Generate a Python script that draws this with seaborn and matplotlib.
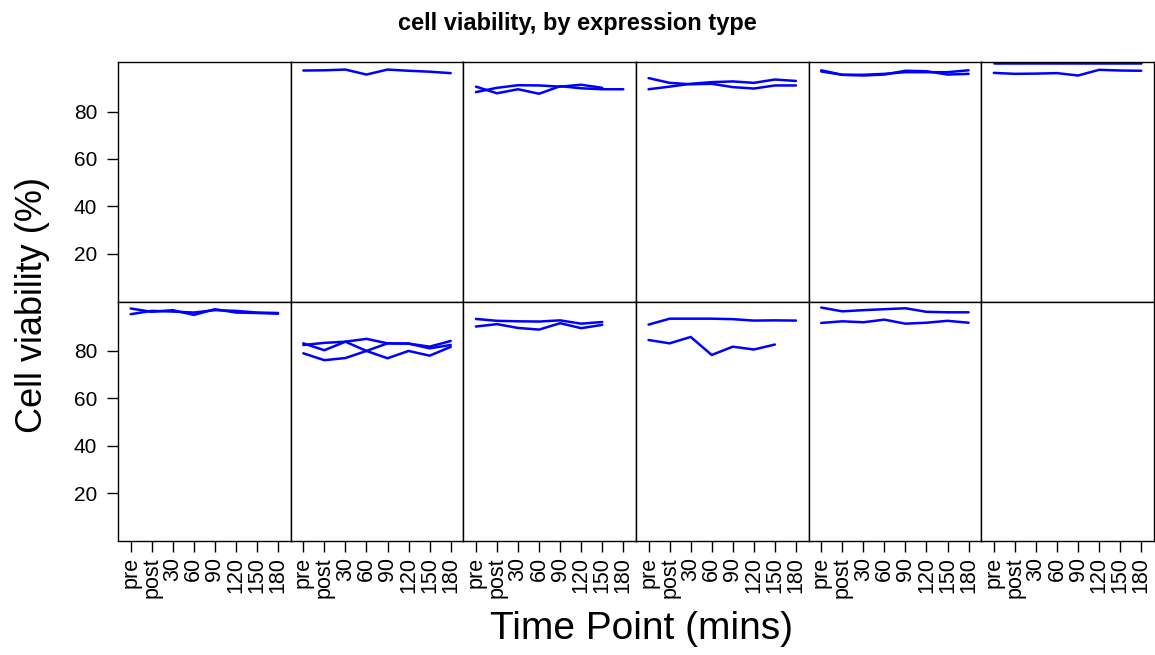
import numpy as np
import pandas as pd
import matplotlib.pyplot as plt
import seaborn as sns

sns.set_theme(style="ticks")
plt.rcParams['font.family'] = ['Liberation Sans', 'DejaVu Sans']
plt.rcParams.update({"text.color": "black", "xtick.color": "black", "ytick.color": "black",
                     "axes.labelcolor": "black"})

time_points = ["pre", "post", "30", "60", "90", "120", "150", "180"]

# top row (column 1 empty)
top2_a = [97.3, 97.4, 97.7, 95.6, 97.7, 97.2, 96.8, 96.2]
top3_a = [90.5, 87.7, 89.4, 87.5, 90.7, 89.8, 89.4, 89.4]
top3_b = [88.2, 90.0, 91.1, 91.0, 90.5, 91.3, 90.0, np.nan]
top4_a = [94.1, 92.1, 91.5, 91.7, 90.3, 89.7, 91.0, 91.0]
top4_b = [89.4, 90.5, 91.7, 92.4, 92.7, 92.1, 93.5, 92.9]
top5_a = [97.4, 95.5, 95.2, 95.6, 97.2, 97.0, 95.6, 95.9]
top5_b = [96.9, 95.5, 95.5, 95.9, 96.6, 96.6, 96.6, 97.4]
top6_a = [96.3, 95.9, 96.0, 96.2, 95.2, 97.6, 97.3, 97.2]
top6_b = [100.5, 100.5, 100.5, 100.5, 100.5, 100.5, 100.5, 100.5]

# bottom row (column 6 empty)
bot1_a = [97.9, 96.5, 97.2, 95.2, 97.6, 96.2, 96.0, 95.7]
bot1_b = [95.5, 96.9, 96.6, 96.2, 97.2, 96.9, 96.2, 96.0]
bot2_a = [83.2, 80.3, 83.9, 80.0, 76.9, 80.0, 78.0, 81.7]
bot2_b = [79.0, 76.1, 77.0, 80.0, 83.2, 83.1, 81.1, 82.5]
bot2_c = [82.5, 83.4, 83.9, 85.1, 83.2, 83.1, 81.8, 84.2]
bot3_a = [93.5, 92.7, 92.5, 92.4, 92.9, 91.5, 92.2, np.nan]
bot3_b = [90.3, 91.3, 89.7, 89.0, 91.7, 89.6, 91.0, np.nan]
bot4_a = [91.1, 93.6, 93.6, 93.6, 93.4, 92.8, 92.9, 92.8]
bot4_b = [84.6, 83.2, 85.9, 78.3, 81.8, 80.6, 82.7, np.nan]
bot5_a = [98.3, 96.7, 97.2, 97.6, 98.0, 96.5, 96.3, 96.3]
bot5_b = [91.8, 92.5, 92.1, 93.2, 91.5, 91.9, 92.7, 91.9]

panels = {
    (0, 1): [top2_a],
    (0, 2): [top3_a, top3_b],
    (0, 3): [top4_a, top4_b],
    (0, 4): [top5_a, top5_b],
    (0, 5): [top6_a, top6_b],
    (1, 0): [bot1_a, bot1_b],
    (1, 1): [bot2_a, bot2_b, bot2_c],
    (1, 2): [bot3_a, bot3_b],
    (1, 3): [bot4_a, bot4_b],
    (1, 4): [bot5_a, bot5_b],
}

rows = []
for (r, c), series in panels.items():
    for k, vals in enumerate(series):
        for i, v in enumerate(vals):
            rows.append({"row": r, "col": c, "unit": k, "tp": i, "viability": v})
df = pd.DataFrame(rows).dropna()

fig, axes = plt.subplots(2, 6, figsize=(11.55, 6.55), dpi=100, sharex=True, sharey=True)
fig.subplots_adjust(left=0.1022, right=0.999, top=0.905, bottom=0.174, wspace=0, hspace=0)

for r in range(2):
    for c in range(6):
        ax = axes[r, c]
        sub = df[(df["row"] == r) & (df["col"] == c)]
        if len(sub):
            sns.lineplot(data=sub, x="tp", y="viability", units="unit", estimator=None,
                         color="#0000ff", linewidth=1.8, ax=ax)
        ax.set_xlabel("")
        ax.set_ylabel("")
        for s in ax.spines.values():
            s.set_color("black")
            s.set_linewidth(1.0)
        ax.tick_params(direction="out", length=8, width=1, color="black",
                       top=False, right=False,
                       bottom=(r == 1), labelbottom=(r == 1),
                       left=(c == 0), labelleft=(c == 0))

axes[0, 0].set_xlim(-0.6, 7.6)
axes[0, 0].set_ylim(-0.2, 100.8)
axes[0, 0].set_yticks([20, 40, 60, 80])
axes[0, 0].set_xticks(range(len(time_points)))
for ax in axes[1]:
    ax.set_xticks(range(len(time_points)))
    ax.set_xticklabels(time_points, rotation=90, fontsize=15.5)
for ax in axes[:, 0]:
    ax.tick_params(axis="y", labelsize=15, pad=7)

fig.suptitle("cell viability, by expression type", fontsize=17, fontweight="bold", y=0.982)
fig.text(0.028, 0.535, "Cell viability (%)", rotation=90, ha="center", va="center", fontsize=26)
fig.text(0.555, 0.04, "Time Point (mins)", ha="center", va="center", fontsize=28)

plt.savefig("out.png", dpi=100)
